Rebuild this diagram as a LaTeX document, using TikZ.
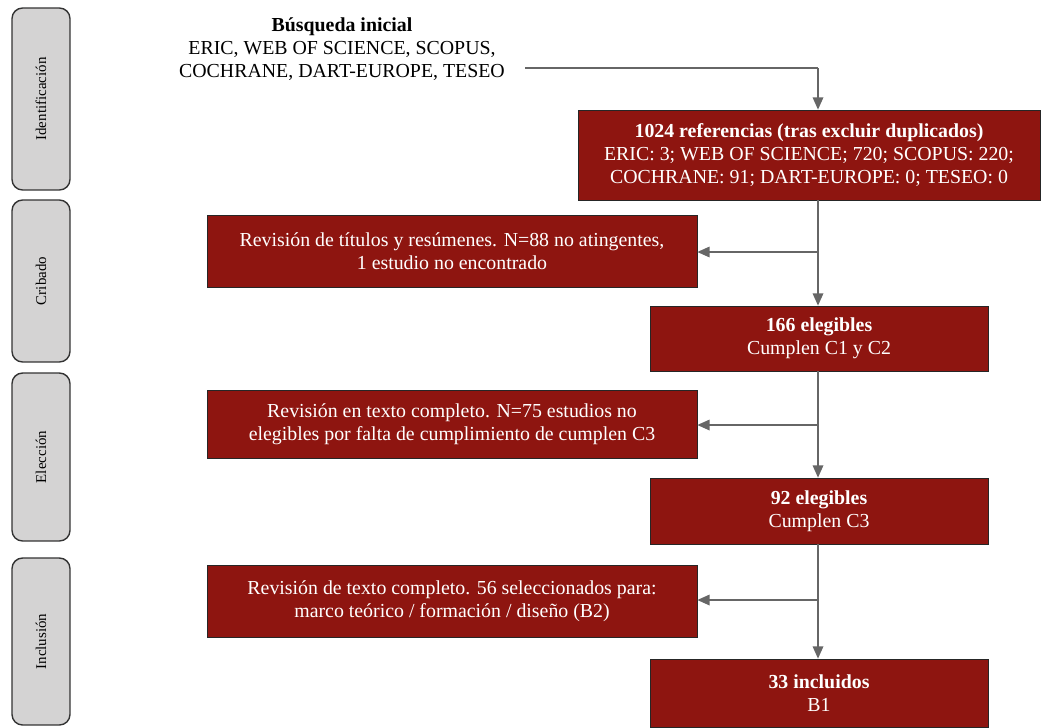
\documentclass[tikz,border=0pt]{standalone}
\usepackage{fontspec}
\setmainfont{Liberation Serif}
\usetikzlibrary{arrows.meta}
\definecolor{darkred}{HTML}{8E1510}
\definecolor{phasegray}{HTML}{D4D3D3}
\definecolor{linegray}{HTML}{666666}

\tikzset{
  phase/.style={draw=black!80, fill=phasegray, rounded corners=6pt, line width=0.8pt,
    minimum height=1.16cm, rotate=90, font=\fontsize{8.5}{9}\selectfont},
  redbox/.style={draw=black!85, fill=darkred, text=white, align=center,
    font=\fontsize{11.3}{13.2}\selectfont},
  arr/.style={draw=linegray, line width=0.9pt, -{Triangle[length=7pt,width=6pt]}},
  ln/.style={draw=linegray, line width=0.9pt}
}

\begin{document}
\begin{tikzpicture}[x=0.02cm,y=-0.02cm]
\useasboundingbox (0,0) rectangle (1044,727);

% fases
\node[phase, minimum width=3.64cm] (ident) at (41,99) {Identificación};
\node[phase, minimum width=3.24cm] (crib) at (41,281) {Cribado};
\node[phase, minimum width=3.36cm] (elec) at (41,457) {Elección};
\node[phase, minimum width=3.34cm] (incl) at (41,641.5) {Inclusión};

% busqueda
\node[align=center, font=\fontsize{11.3}{13.2}\selectfont] (search) at (342,49)
  {\textbf{Búsqueda inicial}\\ERIC, WEB OF SCIENCE, SCOPUS,\\COCHRANE, DART-EUROPE, TESEO};
\coordinate (s) at (525,68);

% cajas
\node[redbox, minimum width=9.24cm, minimum height=1.8cm] (refs) at (809,155)
  {\textbf{1024 referencias (tras excluir duplicados)}\\ERIC: 3; WEB OF SCIENCE; 720; SCOPUS: 220;\\COCHRANE: 91; DART-EUROPE: 0; TESEO: 0};
\node[redbox, minimum width=9.8cm, minimum height=1.44cm] (rev1) at (452,251)
  {Revisión de títulos y resúmenes. N=88 no atingentes,\\1 estudio no encontrado};
\node[redbox, minimum width=6.76cm, minimum height=1.3cm] (eleg1) at (819,338.5)
  {\textbf{166 elegibles}\\Cumplen C1 y C2};
\node[redbox, minimum width=9.8cm, minimum height=1.36cm] (rev2) at (452,424)
  {Revisión en texto completo. N=75 estudios no\\elegibles por falta de cumplimiento de cumplen C3};
\node[redbox, minimum width=6.76cm, minimum height=1.32cm] (eleg2) at (819,511)
  {\textbf{92 elegibles}\\Cumplen C3};
\node[redbox, minimum width=9.8cm, minimum height=1.44cm] (rev3) at (452,601)
  {Revisión de texto completo. 56 seleccionados para:\\marco teórico / formación / diseño (B2)};
\node[redbox, minimum width=6.76cm, minimum height=1.36cm] (incl1) at (819,693)
  {\textbf{33 incluidos}\\B1};

% flechas
\coordinate (k0) at (818,68);
\coordinate (k1) at (818,252);
\coordinate (k2) at (818,425);
\coordinate (k3) at (818,600);
\draw[ln] (s) -- (k0);
\draw[arr] (k0) -- (k0 |- refs.north);
\draw[arr] (k0 |- refs.south) -- (k1 |- eleg1.north);
\draw[arr] (k1) -- (rev1.east |- k1);
\draw[arr] (k1 |- eleg1.south) -- (k2 |- eleg2.north);
\draw[arr] (k2) -- (rev2.east |- k2);
\draw[arr] (k2 |- eleg2.south) -- (k3 |- incl1.north);
\draw[arr] (k3) -- (rev3.east |- k3);

\end{tikzpicture}
\end{document}
